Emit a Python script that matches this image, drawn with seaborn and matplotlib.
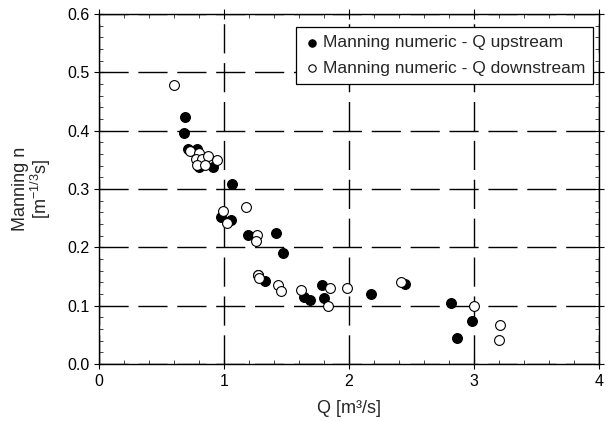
import numpy as np
import pandas as pd
import matplotlib
matplotlib.use("Agg")
import matplotlib.pyplot as plt
from matplotlib.ticker import MultipleLocator
import seaborn as sns

# ────────────────────────────────────────────────
# DATA
# ────────────────────────────────────────────────
q_up = [0.686, 0.678, 0.713, 0.780, 0.912, 0.796, 1.063, 0.979, 1.053, 1.194,
        1.416, 1.469, 1.272, 1.325, 1.638, 1.685, 1.787, 1.803, 2.176, 2.448,
        2.813, 2.981, 2.861]
n_up = [0.423, 0.396, 0.369, 0.368, 0.338, 0.337, 0.309, 0.252, 0.247, 0.221,
        0.224, 0.191, 0.152, 0.143, 0.115, 0.109, 0.135, 0.114, 0.120, 0.138,
        0.105, 0.074, 0.045]

q_down = [0.600, 0.726, 0.800, 0.774, 0.827, 0.875, 0.942, 0.782, 0.844, 0.992,
          1.176, 1.027, 1.267, 1.254, 1.275, 1.280, 1.434, 1.457, 1.614, 1.850,
          1.832, 1.980, 2.413, 3.000, 3.210, 3.200]
n_down = [0.479, 0.365, 0.362, 0.351, 0.351, 0.356, 0.349, 0.341, 0.342, 0.262,
          0.270, 0.242, 0.222, 0.211, 0.153, 0.148, 0.136, 0.126, 0.127, 0.130,
          0.100, 0.130, 0.141, 0.099, 0.067, 0.041]

label_up = "Manning numeric - Q upstream"
label_down = "Manning numeric - Q downstream"

df_up = pd.DataFrame({"Q": q_up, "n": n_up})
df_down = pd.DataFrame({"Q": q_down, "n": n_down})

# ────────────────────────────────────────────────
# STYLE
# ────────────────────────────────────────────────
sns.set_style("ticks")
plt.rcParams['font.family'] = ['Liberation Sans', 'DejaVu Sans']
plt.rcParams['mathtext.fontset'] = 'custom'
plt.rcParams['mathtext.rm'] = 'Liberation Sans'

fig = plt.figure(figsize=(6.09, 4.21), dpi=100)
ax = fig.add_axes([0.1626, 0.1354, 0.821, 0.8313])

sns.scatterplot(data=df_up, x="Q", y="n", ax=ax, color="black",
                edgecolor="black", linewidth=0.8, s=50, label=label_up, zorder=3)
sns.scatterplot(data=df_down, x="Q", y="n", ax=ax, color="white",
                edgecolor="black", linewidth=0.8, s=50, label=label_down, zorder=3)

ax.set_xlim(0, 4)
ax.set_ylim(0, 0.6)
ax.xaxis.set_major_locator(MultipleLocator(1))
ax.xaxis.set_minor_locator(MultipleLocator(0.2))
ax.yaxis.set_major_locator(MultipleLocator(0.1))
ax.yaxis.set_minor_locator(MultipleLocator(0.02))
ax.set_yticklabels([f"{v:.1f}" for v in ax.get_yticks()])

ax.grid(True, which="major", color="black", linewidth=1.0,
        linestyle=(0, (21, 7)))
ax.tick_params(which="major", direction="inout", length=7, width=0.8,
               top=True, right=True, labelsize=11.5, colors="black")
ax.tick_params(which="minor", direction="in", length=3, width=0.6,
               top=True, right=True)
for sp in ax.spines.values():
    sp.set_color("black")
    sp.set_linewidth(1.0)

ax.set_xlabel("Q [m³/s]", fontsize=13, labelpad=8)
ax.set_ylabel("Manning n\n" + r"[m$^{\mathregular{-1/3}}$s]", fontsize=13,
              labelpad=10, linespacing=1.0)

leg = ax.legend(loc="upper right", bbox_to_anchor=(0.988, 0.962), fontsize=12.5,
                frameon=True, fancybox=False, framealpha=1, edgecolor="black",
                handletextpad=0.1, borderpad=0.45, labelspacing=0.6,
                handlelength=1.0, markerscale=0.75, borderaxespad=0)
leg.get_frame().set_linewidth(0.9)

fig.savefig("out.png", dpi=100)
